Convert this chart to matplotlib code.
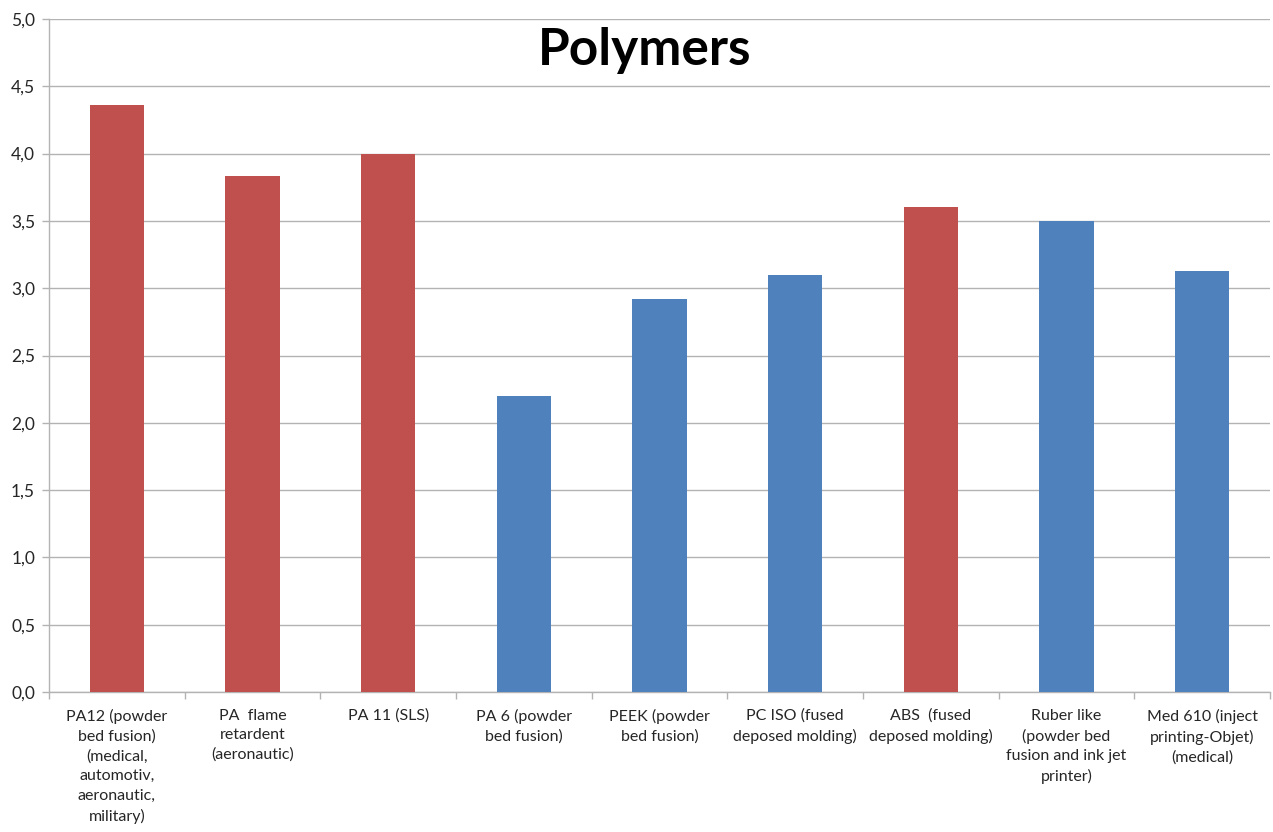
import matplotlib
matplotlib.use("Agg")
import matplotlib.pyplot as plt
from matplotlib.ticker import FixedLocator, FuncFormatter
import numpy as np

categories = [
    "PA12 (powder\nbed fusion)\n(medical,\nautomotiv,\naeronautic,\nmilitary)",
    "PA  flame\nretardent\n(aeronautic)",
    "PA 11 (SLS)",
    "PA 6 (powder\nbed fusion)",
    "PEEK (powder\nbed fusion)",
    "PC ISO (fused\ndeposed molding)",
    "ABS  (fused\ndeposed molding)",
    "Ruber like\n(powder bed\nfusion and ink jet\nprinter)",
    "Med 610 (inject\nprinting-Objet)\n(medical)",
]
values = [4.36, 3.83, 4.0, 2.2, 2.92, 3.1, 3.6, 3.5, 3.13]
highlight = [True, True, True, False, False, False, True, False, False]

RED = "#C0504D"
BLUE = "#4F81BD"
GRID = "#B3B3B3"

plt.rcParams["font.family"] = ["Lato", "DejaVu Sans"]

fig = plt.figure(figsize=(12.73, 8.32), dpi=100)
ax = fig.add_axes([49 / 1273, 1 - 692 / 832, (1270 - 49) / 1273, (692 - 19) / 832])

x = np.arange(len(categories))
colors = [RED if h else BLUE for h in highlight]
ax.bar(x, values, width=0.4, color=colors, zorder=3)

ax.set_xlim(-0.5, len(categories) - 0.5)
ax.set_ylim(0, 5)
ax.yaxis.set_major_locator(FixedLocator(np.arange(0, 5.01, 0.5)))
ax.yaxis.set_major_formatter(FuncFormatter(lambda v, p: f"{v:.1f}".replace(".", ",")))
ax.grid(axis="y", color=GRID, linewidth=1.0, zorder=0)

ax.set_xticks(x)
ax.set_xticklabels(categories, fontsize=11.5, linespacing=1.5, color="#262626")
ax.tick_params(axis="x", length=0, pad=12)
ax.set_xticks(np.arange(-0.5, len(categories)), minor=True)
ax.tick_params(axis="x", which="minor", length=5, color=GRID, width=1.0)
ax.tick_params(axis="y", length=5, color=GRID, width=1.0, labelsize=12.5,
               labelcolor="#262626", pad=5)

for side in ("top", "right"):
    ax.spines[side].set_visible(False)
for side in ("left", "bottom"):
    ax.spines[side].set_color(GRID)
    ax.spines[side].set_linewidth(1.0)

fig.text(645 / 1273, 1 - 50 / 832, "Polymers", ha="center", va="center",
         fontsize=37, fontweight="bold", color="black")

fig.savefig("out.png", dpi=100, facecolor="white")
